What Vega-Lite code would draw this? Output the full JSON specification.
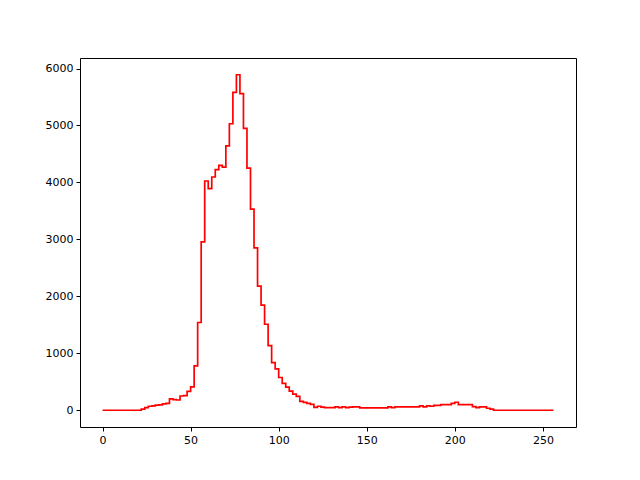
{
  "$schema": "https://vega.github.io/schema/vega-lite/v6.json",
  "width": 496,
  "height": 369,
  "autosize": {"type": "none"},
  "padding": {"left": 80, "top": 58, "right": 64, "bottom": 53},
  "background": "white",
  "config": {
    "view": {"stroke": "black", "strokeWidth": 1},
    "axis": {
      "grid": false,
      "domain": false,
      "tickColor": "black",
      "tickSize": 4,
      "tickWidth": 1,
      "labelFont": "DejaVu Sans",
      "labelFontSize": 11,
      "labelColor": "black",
      "labelPadding": 3,
      "title": null
    }
  },
  "data": {
    "values": [
      {"x": 0, "count": 0}, {"x": 2, "count": 0}, {"x": 4, "count": 0}, {"x": 6, "count": 0},
      {"x": 8, "count": 0}, {"x": 10, "count": 0}, {"x": 12, "count": 0}, {"x": 14, "count": 0},
      {"x": 16, "count": 0}, {"x": 18, "count": 0}, {"x": 20, "count": 0}, {"x": 22, "count": 20},
      {"x": 24, "count": 45}, {"x": 26, "count": 70}, {"x": 28, "count": 75}, {"x": 30, "count": 90},
      {"x": 32, "count": 95}, {"x": 34, "count": 110}, {"x": 36, "count": 120}, {"x": 38, "count": 200},
      {"x": 40, "count": 185}, {"x": 42, "count": 180}, {"x": 44, "count": 250}, {"x": 46, "count": 255},
      {"x": 48, "count": 330}, {"x": 50, "count": 410}, {"x": 52, "count": 780}, {"x": 54, "count": 1540},
      {"x": 56, "count": 2955}, {"x": 58, "count": 4025}, {"x": 60, "count": 3890}, {"x": 62, "count": 4095},
      {"x": 64, "count": 4225}, {"x": 66, "count": 4300}, {"x": 68, "count": 4270}, {"x": 70, "count": 4640},
      {"x": 72, "count": 5030}, {"x": 74, "count": 5580}, {"x": 76, "count": 5890}, {"x": 78, "count": 5560},
      {"x": 80, "count": 4950}, {"x": 82, "count": 4250}, {"x": 84, "count": 3530}, {"x": 86, "count": 2850},
      {"x": 88, "count": 2180}, {"x": 90, "count": 1845}, {"x": 92, "count": 1510}, {"x": 94, "count": 1135},
      {"x": 96, "count": 837}, {"x": 98, "count": 727}, {"x": 100, "count": 575}, {"x": 102, "count": 470},
      {"x": 104, "count": 406}, {"x": 106, "count": 336}, {"x": 108, "count": 283}, {"x": 110, "count": 242},
      {"x": 112, "count": 155}, {"x": 114, "count": 137}, {"x": 116, "count": 120}, {"x": 118, "count": 102},
      {"x": 120, "count": 50}, {"x": 122, "count": 70}, {"x": 124, "count": 55}, {"x": 126, "count": 45},
      {"x": 128, "count": 45}, {"x": 130, "count": 45}, {"x": 132, "count": 60}, {"x": 134, "count": 45},
      {"x": 136, "count": 60}, {"x": 138, "count": 45}, {"x": 140, "count": 55}, {"x": 142, "count": 60},
      {"x": 144, "count": 60}, {"x": 146, "count": 40}, {"x": 148, "count": 40}, {"x": 150, "count": 40},
      {"x": 152, "count": 40}, {"x": 154, "count": 40}, {"x": 156, "count": 40}, {"x": 158, "count": 40},
      {"x": 160, "count": 40}, {"x": 162, "count": 60}, {"x": 164, "count": 45}, {"x": 166, "count": 60},
      {"x": 168, "count": 60}, {"x": 170, "count": 60}, {"x": 172, "count": 60}, {"x": 174, "count": 60},
      {"x": 176, "count": 60}, {"x": 178, "count": 60}, {"x": 180, "count": 75}, {"x": 182, "count": 60},
      {"x": 184, "count": 75}, {"x": 186, "count": 70}, {"x": 188, "count": 85}, {"x": 190, "count": 85},
      {"x": 192, "count": 100}, {"x": 194, "count": 100}, {"x": 196, "count": 100}, {"x": 198, "count": 120},
      {"x": 200, "count": 140}, {"x": 202, "count": 100}, {"x": 204, "count": 100}, {"x": 206, "count": 100},
      {"x": 208, "count": 100}, {"x": 210, "count": 65}, {"x": 212, "count": 45}, {"x": 214, "count": 60},
      {"x": 216, "count": 60}, {"x": 218, "count": 35}, {"x": 220, "count": 20}, {"x": 222, "count": 0},
      {"x": 224, "count": 0}, {"x": 226, "count": 0}, {"x": 228, "count": 0}, {"x": 230, "count": 0},
      {"x": 232, "count": 0}, {"x": 234, "count": 0}, {"x": 236, "count": 0}, {"x": 238, "count": 0},
      {"x": 240, "count": 0}, {"x": 242, "count": 0}, {"x": 244, "count": 0}, {"x": 246, "count": 0},
      {"x": 248, "count": 0}, {"x": 250, "count": 0}, {"x": 252, "count": 0}, {"x": 254, "count": 0},
      {"x": 256, "count": 0}
    ]
  },
  "mark": {"type": "line", "interpolate": "step-after", "color": "#ff0000", "strokeWidth": 1.7},
  "encoding": {
    "x": {
      "field": "x", "type": "quantitative",
      "scale": {"domain": [-12.8, 268.8], "nice": false, "zero": false},
      "axis": {"values": [0, 50, 100, 150, 200, 250], "format": "d"}
    },
    "y": {
      "field": "count", "type": "quantitative",
      "scale": {"domain": [-294.5, 6184.5], "nice": false, "zero": false},
      "axis": {"values": [0, 1000, 2000, 3000, 4000, 5000, 6000], "format": "d"}
    }
  }
}
